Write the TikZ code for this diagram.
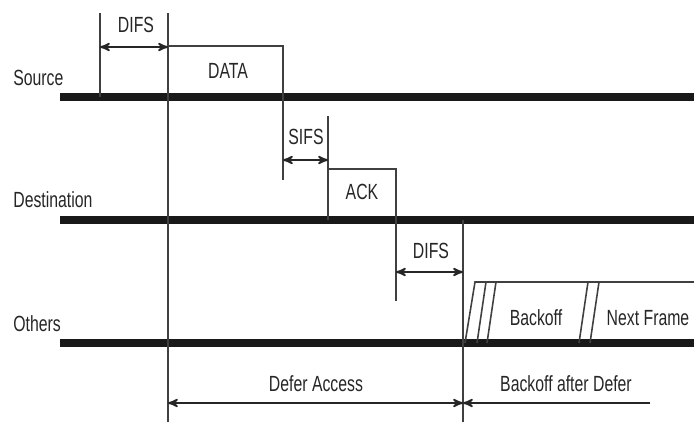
\documentclass[tikz,border=0pt]{standalone}
\usepackage{fontspec}
\setmainfont[FakeStretch=0.72]{Liberation Sans}
\usetikzlibrary{arrows}

\begin{document}
\begin{tikzpicture}[x=0.02cm,y=-0.02cm,font=\fontsize{12.5}{14}\selectfont,text=black!85,
  bar/.style={line width=5pt,black!90},
  tick/.style={line width=0.9pt,black!75},
  span/.style={<->,line width=1pt,black!85,>=stealth'},
  station/.style={anchor=base west,inner sep=0pt}]
\useasboundingbox (0,0) rectangle (694,424);

% station time lines
\draw[bar] (60,97)--(694,97) (60,220)--(694,220) (60,343)--(694,343);
\node[station] (src) at (13,85) {Source};
\node[station] (dst) at (13,207) {Destination};
\node[station] (oth) at (13,331) {Others};

% source: DIFS + DATA
\draw[tick] (100,13)--(100,97) (168,13)--(168,422);
\draw[tick] (168,46)--(283,46)--(283,180);
\draw[span] (100,47)--(168,47);
\node (difs1) at (136,25) {DIFS};
\node (data) at (228,71) {DATA};

% destination: SIFS + ACK
\draw[tick] (328,116)--(328,220) (328,169)--(396,169)--(396,301);
\draw[span] (283,160)--(328,160);
\node (sifs) at (306,137) {SIFS};
\node (ack) at (362,192) {ACK};

% others: DIFS + backoff
\draw[tick] (463,220)--(463,422);
\draw[span] (396,272)--(463,272);
\node (difs2) at (431,251) {DIFS};
\draw[tick] (465,343)--(475,282)--(694,282);
\draw[tick] (477,343)--(486,282) (487,343)--(496,282) (579,343)--(588,282) (590,343)--(599,282);
\node (boff) at (536,318) {Backoff};
\node (next) at (648,318) {Next Frame};

% bottom spans
\draw[span] (168,403)--(463,403);
\draw[span,->] (650,403)--(463,403);
\node (defer) at (316,384) {Defer Access};
\node (bad) at (566,384) {Backoff after Defer};
\end{tikzpicture}
\end{document}
